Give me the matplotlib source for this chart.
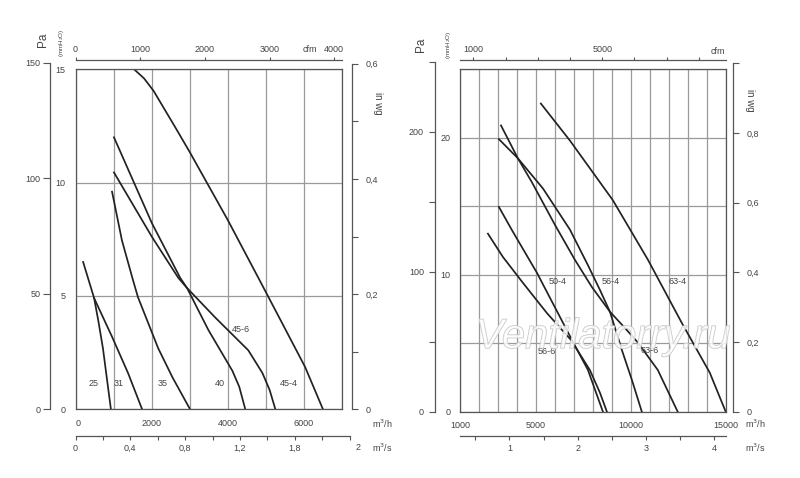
import matplotlib
matplotlib.use("Agg")
import matplotlib.pyplot as plt
import matplotlib.patheffects as pe

plt.rcParams['font.family'] = ['Liberation Sans', 'DejaVu Sans']

W, H = 800, 478
CFM = 1.699          # m3/h per cfm
INWG = 25.4          # mmH2O per in wg
PA = 9.81            # Pa per mmH2O

# left chart: flow in m3/h, pressure in mmH2O
fan_25_q = [200, 490, 600, 720, 930]
fan_25_p = [6.5, 4.9, 3.9, 2.7, 0]
fan_31_q = [490, 960, 1380, 1750]
fan_31_p = [4.9, 3.2, 1.6, 0]
fan_35_q = [960, 1220, 1510, 1640, 2170, 2550, 3010]
fan_35_p = [9.6, 7.45, 5.7, 4.95, 2.7, 1.4, 0]
fan_40_q = [1010, 2010, 2750, 2930, 3490, 4120, 4300, 4460]
fan_40_p = [12.0, 8.2, 5.8, 5.35, 3.5, 1.7, 1.0, 0]
fan_45_6_q = [1010, 2010, 2700, 2930, 3670, 4540, 4910, 5100, 5250]
fan_45_6_p = [10.45, 7.6, 5.8, 5.35, 4.05, 2.6, 1.6, 0.85, 0]
fan_45_4_q = [1540, 1800, 2050, 2600, 3000, 4000, 4850, 5500, 6030, 6500]
fan_45_4_p = [15.0, 14.6, 14.05, 12.5, 11.35, 8.35, 5.65, 3.57, 1.87, 0]

left_labels = ["25", "31", "35", "40", "45-4", "45-6"]
left_label_q = [486, 1143, 2298, 3795, 5608, 4347]
left_label_p = [1.12, 1.12, 1.12, 1.12, 1.12, 3.54]

# right chart
fan_50_4_q = [3050, 3740, 5050, 6160, 6950, 7740, 8530]
fan_50_4_p = [14.95, 13.25, 10.15, 7.2, 5.1, 3.05, 0]
fan_56_6_q = [2470, 3260, 4320, 5580, 6840, 7840, 8370, 8740]
fan_56_6_p = [13.0, 11.3, 9.4, 7.2, 5.25, 3.05, 1.4, 0]
fan_56_4_q = [3050, 4050, 5370, 6790, 7740, 8370, 8900, 9530, 10050, 10580]
fan_56_4_p = [19.9, 18.5, 16.3, 13.3, 10.7, 8.9, 7.3, 4.5, 2.35, 0]
fan_63_6_q = [3160, 4050, 4790, 6000, 7050, 7950, 8900, 9700, 10370, 11420, 12470]
fan_63_6_p = [20.9, 18.5, 16.75, 13.65, 11.1, 9.1, 7.3, 6.1, 5.05, 3.05, 0]
fan_63_4_q = [5260, 6790, 9050, 10900, 12680, 14160, 15000]
fan_63_4_p = [22.5, 19.8, 15.45, 11.1, 6.5, 2.85, 0]

right_labels = ["50-4", "56-4", "63-4", "56-6", "63-6"]
right_label_q = [6158, 8947, 12474, 5579, 11000]
right_label_p = [9.53, 9.53, 9.53, 4.42, 4.5]

TXT = "#444444"
GRID = "#9a9a9a"
LINE = "#222222"
FS = 6.5


def rect(x0, y0, x1, y1):
    return [x0 / W, 1 - y1 / H, (x1 - x0) / W, (y1 - y0) / H]


def ftext(x, y, s, **kw):
    kw.setdefault("color", TXT)
    kw.setdefault("fontsize", FS)
    kw.setdefault("ha", "center")
    kw.setdefault("va", "center")
    fig.text(x / W, 1 - y / H, s, **kw)


def bare(ax, keep):
    ax.patch.set_visible(False)
    for s in ["left", "right", "top", "bottom"]:
        ax.spines[s].set_visible(s == keep)
        ax.spines[s].set_color("#555555")
        ax.spines[s].set_linewidth(0.9)


def main_axes(box, xlim, ylim, xmaj, xmin, ymaj, ymin):
    ax = fig.add_axes(rect(*box))
    ax.set_xlim(*xlim)
    ax.set_ylim(*ylim)
    ax.set_xticks(xmaj)
    ax.set_xticks(xmin, minor=True)
    ax.set_yticks(ymaj)
    ax.set_yticks(ymin, minor=True)
    ax.grid(True, which="both", color=GRID, linewidth=0.9)
    ax.set_axisbelow(True)
    ax.tick_params(which="both", length=0, labelsize=FS, labelcolor=TXT)
    ax.tick_params(axis="x", pad=7)
    ax.tick_params(axis="y", pad=7)
    for s in ax.spines.values():
        s.set_color("#555555")
        s.set_linewidth(0.9)
    return ax


fig = plt.figure(figsize=(8, 4.78), dpi=100)

# ---------------- left chart ----------------
ax1 = main_axes((75.5, 69.3, 342, 409.3), (0, 7000), (0, 15),
                [0, 2000, 4000, 6000], range(0, 7001, 1000),
                [0, 5, 10, 15], [])
curves_l = [(fan_25_q, fan_25_p), (fan_31_q, fan_31_p), (fan_35_q, fan_35_p),
            (fan_40_q, fan_40_p), (fan_45_6_q, fan_45_6_p), (fan_45_4_q, fan_45_4_p)]
for q, p in curves_l:
    ax1.plot(q, p, color=LINE, linewidth=1.25, solid_joinstyle="round")
for s, q, p in zip(left_labels, left_label_q, left_label_p):
    ax1.text(q, p, s, fontsize=FS, color=TXT, ha="center", va="center")
ax1.get_xticklabels()[0].set_horizontalalignment("left")

# Pa scale
ax = fig.add_axes(rect(50, 409.3 - 150 / PA * 22.67, 56, 409.3))
bare(ax, "left")
ax.set_ylim(0, 150)
ax.set_yticks([0, 50, 100, 150])
ax.set_xticks([])
ax.tick_params(axis="y", length=5, width=0.8, color="#555555", pad=2, labelsize=FS, labelcolor=TXT)

# in wg scale
ax = fig.add_axes(rect(340, 409.3 - 0.6 * INWG * 22.67, 351.7, 409.3))
bare(ax, "right")
ax.set_ylim(0, 0.6)
ax.yaxis.tick_right()
ax.set_yticks([0, 0.2, 0.4, 0.6], ["0", "0,2", "0,4", "0,6"])
ax.set_yticks([0.1, 0.3, 0.5], minor=True)
ax.set_xticks([])
ax.tick_params(axis="y", which="both", length=4, width=0.8, color="#555555", pad=6, labelsize=FS, labelcolor=TXT)

# cfm scale
ax = fig.add_axes(rect(75.5, 60, 342, 62.5))
bare(ax, "top")
ax.set_xlim(0, 7000 / CFM)
ax.xaxis.tick_top()
ax.set_xticks([0, 1000, 2000, 3000, 4000])
ax.set_yticks([])
ax.tick_params(axis="x", length=2.5, width=0.8, color="#555555", pad=2, labelsize=FS, labelcolor=TXT)
ftext(310, 50, "cfm")

# m3/s scale
ax = fig.add_axes(rect(75.5, 433, 75.5 + 7200 * 266.5 / 7000, 435.5))
bare(ax, "bottom")
ax.set_xlim(0, 2.0)
ax.set_xticks([0, 0.4, 0.8, 1.2, 1.6], ["0", "0,4", "0,8", "1,2", "1,8"])
ax.set_xticks([0.2 * i for i in range(11)], minor=True)
ax.set_yticks([])
ax.tick_params(axis="x", which="both", length=3, width=0.8, color="#555555", pad=3, labelsize=FS, labelcolor=TXT)
ftext(358, 448, "2")
ftext(372, 448, "m$^3$/s", ha="left")
ftext(372, 424, "m$^3$/h", ha="left")

ftext(43, 40, "Pa", rotation=90, fontsize=8.5)
ftext(62, 43, "(mmH$_2$O)", rotation=90, fontsize=4.5)
ftext(378, 103, "in wg", rotation=270, fontsize=7)

# ---------------- right chart ----------------
ax2 = main_axes((460, 69.3, 725.7, 411.7), (1000, 15000), (0, 25),
                [1000, 5000, 10000, 15000], range(1000, 15001, 1000),
                [0, 10, 20], [5, 15, 25])
curves_r = [(fan_50_4_q, fan_50_4_p), (fan_56_6_q, fan_56_6_p), (fan_56_4_q, fan_56_4_p),
            (fan_63_6_q, fan_63_6_p), (fan_63_4_q, fan_63_4_p)]
for q, p in curves_r:
    ax2.plot(q, p, color=LINE, linewidth=1.25, solid_joinstyle="round")
for s, q, p in zip(right_labels, right_label_q, right_label_p):
    ax2.text(q, p, s, fontsize=FS, color=TXT, ha="center", va="center")

# Pa scale
ax = fig.add_axes(rect(435, 411.7 - 250 / PA * 13.72, 441, 411.7))
bare(ax, "left")
ax.set_ylim(0, 250)
ax.set_yticks([0, 50, 100, 150, 200, 250], ["0", "", "100", "", "200", ""])
ax.set_xticks([])
ax.tick_params(axis="y", length=4, width=0.8, color="#555555", pad=4, labelsize=FS, labelcolor=TXT)

# in wg scale
ax = fig.add_axes(rect(726, 411.7 - INWG * 13.72, 732.5, 411.7))
bare(ax, "right")
ax.set_ylim(0, 1.0)
ax.yaxis.tick_right()
ax.set_yticks([0, 0.2, 0.4, 0.6, 0.8, 1.0], ["0", "0,2", "0,4", "0,6", "0,8", ""])
ax.set_xticks([])
ax.tick_params(axis="y", length=4, width=0.8, color="#555555", pad=6, labelsize=FS, labelcolor=TXT)

# cfm scale
ax = fig.add_axes(rect(460, 60, 725.7, 63.3))
bare(ax, "top")
ax.set_xlim(1000 / CFM, 15000 / CFM)
ax.xaxis.tick_top()
ax.set_xticks([1000, 5000], ["1000", "5000"])
ax.set_xticks(range(1000, 9000, 1000), minor=True)
ax.set_yticks([])
ax.tick_params(axis="x", which="both", length=2.5, width=0.8, color="#555555", pad=2, labelsize=FS, labelcolor=TXT)
ftext(718, 51, "cfm")

# m3/s scale
ax = fig.add_axes(rect(460, 433, 725.7, 435.8))
bare(ax, "bottom")
ax.set_xlim(1000 / 3600, 15000 / 3600)
ax.set_xticks([1, 2, 3, 4])
ax.set_xticks([0.5 * i for i in range(1, 9)], minor=True)
ax.set_yticks([])
ax.tick_params(axis="x", which="both", length=3, width=0.8, color="#555555", pad=3, labelsize=FS, labelcolor=TXT)
ftext(745, 424, "m$^3$/h", ha="left")
ftext(745, 448, "m$^3$/s", ha="left")

ftext(421, 45, "Pa", rotation=90, fontsize=8.5)
ftext(448, 45, "(mmH$_2$O)", rotation=90, fontsize=4.5)
ftext(750, 100, "in wg", rotation=270, fontsize=7)

# watermark
fig.text(603 / W, 1 - 337 / H, "Ventilatorry.ru", fontsize=30, style="italic",
         ha="center", va="center", color=(1, 1, 1, 0.6), zorder=10,
         path_effects=[pe.Stroke(linewidth=0.8, foreground="#c4c4c4"), pe.Normal()])

fig.savefig("out.png", dpi=100)
